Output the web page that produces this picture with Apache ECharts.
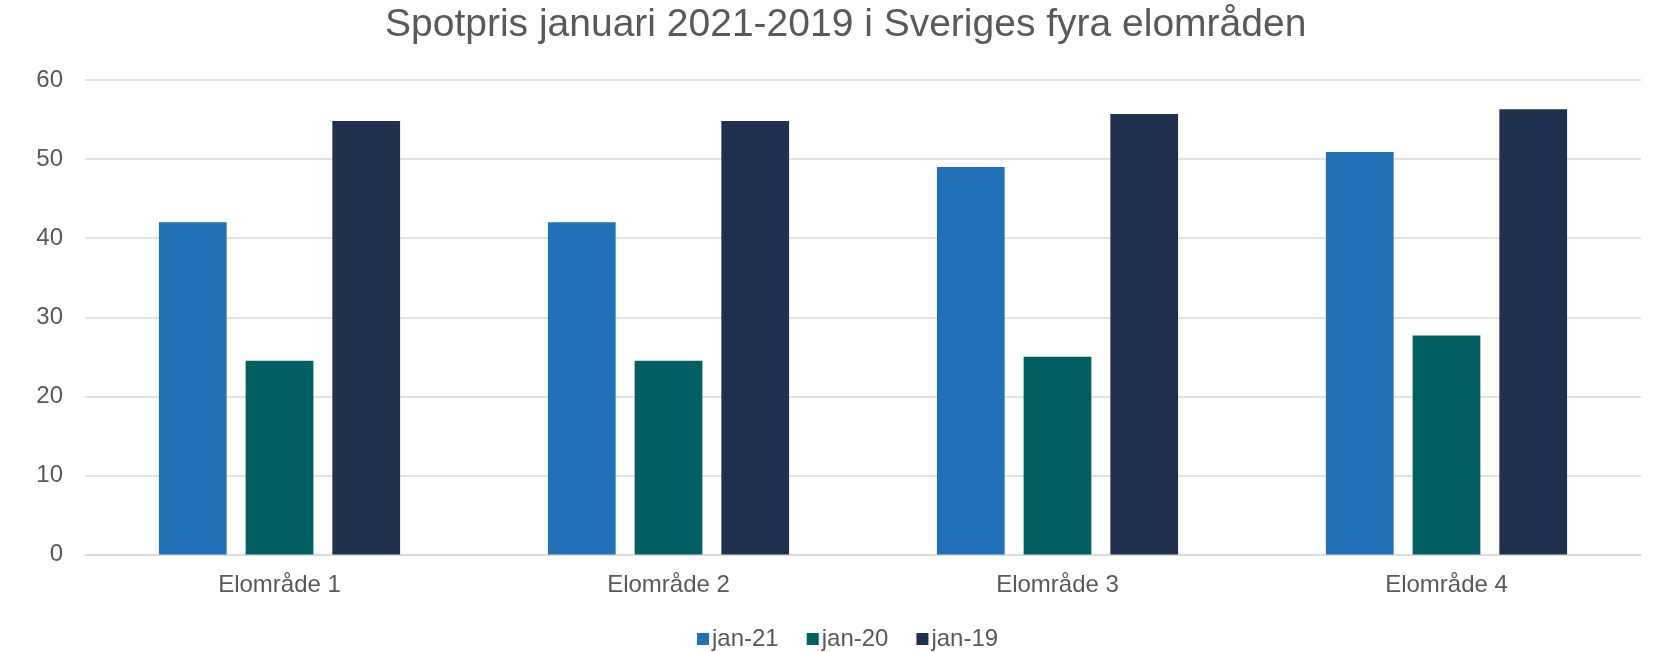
<!DOCTYPE html>
<html>
<head>
<meta charset="utf-8">
<script src="https://cdn.jsdelivr.net/npm/echarts@6/dist/echarts.min.js"></script>
<style>
html,body{margin:0;padding:0;background:#fff;}
#chart{width:1667px;height:652px;}
</style>
</head>
<body>
<div id="chart"></div>
<script>
const titleText = 'Spotpris januari 2021-2019 i Sveriges fyra elområden';
const categories = ['Elområde 1', 'Elområde 2', 'Elområde 3', 'Elområde 4'];
const seriesNames = ['jan-21', 'jan-20', 'jan-19'];
const jan21 = [42.0, 42.0, 49.0, 50.9];
const jan20 = [24.5, 24.5, 25.0, 27.7];
const jan19 = [54.8, 54.8, 55.7, 56.3];
const yTicks = [0, 10, 20, 30, 40, 50, 60];

const colors = ['#2271b6', '#015e63', '#1f314f'];
const font = '"Liberation Sans", Arial, sans-serif';
const chart = echarts.init(document.getElementById('chart'), null, {renderer: 'canvas'});
const dataSets = [jan21, jan20, jan19];
chart.setOption({
  animation: false,
  backgroundColor: '#ffffff',
  color: colors,
  title: {
    text: titleText,
    left: 380,
    top: 1,
    textStyle: {color: '#595959', fontFamily: font, fontSize: 39, fontWeight: 'normal'}
  },
  legend: {
    data: seriesNames,
    bottom: -4,
    left: 692,
    itemWidth: 12,
    itemHeight: 12,
    itemGap: 28,
    icon: 'rect',
    textStyle: {color: '#595959', fontFamily: font, fontSize: 24, padding: [0, 0, 0, -2]}
  },
  grid: {left: 85, right: 26, top: 80, bottom: 97.5, containLabel: false},
  xAxis: {
    type: 'category',
    data: categories,
    axisLine: {show: true, lineStyle: {color: '#d9d9d9', width: 1.5}},
    axisTick: {show: false},
    axisLabel: {color: '#595959', fontFamily: font, fontSize: 24, margin: 19}
  },
  yAxis: {
    type: 'value',
    min: yTicks[0],
    max: yTicks[yTicks.length - 1],
    interval: 10,
    axisLine: {show: false},
    axisTick: {show: false},
    splitLine: {lineStyle: {color: '#d9d9d9', width: 1.5}},
    axisLabel: {color: '#595959', fontFamily: font, fontSize: 24, margin: 22}
  },
  series: seriesNames.map((name, i) => ({
    name: name,
    type: 'bar',
    data: dataSets[i],
    barCategoryGap: '38%',
    barGap: '28%',
    itemStyle: {color: colors[i]}
  }))
});
</script>
</body>
</html>
